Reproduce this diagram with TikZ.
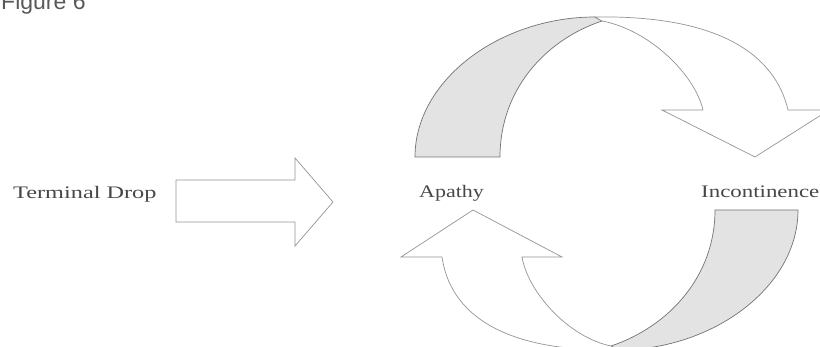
\documentclass[tikz,border=0pt]{standalone}
\usepackage{fontspec}
\setmainfont{Liberation Serif}
\newfontfamily\figfont{Liberation Sans}
\tikzset{
  outl/.style={draw=black!42, line width=0.7pt, line join=miter},
  band/.style={outl, fill=black!11, draw=black!55},
  body/.style={outl, fill=white},
  lbl/.style={text=black!72, inner sep=0pt, font=\fontsize{17.6}{20}\selectfont},
}
\newcommand{\wide}[2][1.3]{\scalebox{#1}[1]{#2}}
\begin{document}
\begin{tikzpicture}[x=1pt,y=-1pt]
\useasboundingbox (0,0) rectangle (820,347);
% caption (cut off at top, as in the reference)
\node[anchor=base west, inner sep=0pt, text=black!65, font=\figfont\fontsize{23}{26}\selectfont] (fig) at (1,10) {Figure 6};
% labels
\node[lbl, anchor=base west] (td) at (13,199) {\wide[1.38]{Terminal Drop}};
\node[lbl, anchor=base west] (ap) at (419,198) {\wide[1.25]{Apathy}};
\node[lbl, anchor=base west] (inc) at (701,198) {\wide{Incontinence}};
% straight arrow
\draw[outl] (176,180) -- (295,180) -- (295,158) -- (333,202) -- (295,246) -- (295,222) -- (176,222) -- cycle;
% upper curved arrow: shaded back
\draw[band] (415,157) .. controls (415,80) and (500,17) .. (595,17)
  -- (602,21) .. controls (545,40) and (500,90) .. (500,157) -- cycle;
% upper curved arrow: front body
\draw[body] (595,17) .. controls (720,15) and (775,55) .. (788,110)
  -- (829,110) -- (755,157) -- (662,110) -- (703,110)
  .. controls (695,75) and (650,30) .. (602,21) -- cycle;
% lower curved arrow: shaded back
\draw[band] (798,210) .. controls (798,287) and (713,350) .. (618,350)
  -- (611,346) .. controls (668,327) and (715,277) .. (715,210) -- cycle;
% lower curved arrow: front body
\draw[body] (618,350) .. controls (500,352) and (450,312) .. (442,257)
  -- (401,257) -- (473,210) -- (562,257) -- (522,257)
  .. controls (528,292) and (568,337) .. (611,346) -- cycle;
\end{tikzpicture}
\end{document}
